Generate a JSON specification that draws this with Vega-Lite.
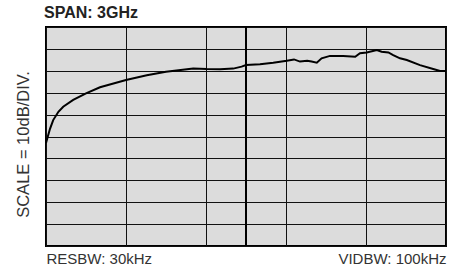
{
  "$schema": "https://vega.github.io/schema/vega-lite/v6.json",
  "width": 400,
  "height": 219,
  "autosize": "none",
  "padding": {"left": 46, "top": 27, "right": 10, "bottom": 23},
  "background": "white",
  "config": {
    "view": {"fill": "#dcdcdc", "stroke": "#000000", "strokeWidth": 2},
    "font": "Liberation Sans"
  },
  "title": {
    "text": "SPAN: 3GHz",
    "anchor": "start",
    "frame": "group",
    "fontSize": 16,
    "fontWeight": "bold",
    "color": "#222222",
    "offset": 5,
    "dx": -2
  },
  "datasets": {
    "trace": [
      {"x": 0, "y": 4.7},
      {"x": 0.1, "y": 5.35},
      {"x": 0.18, "y": 5.75},
      {"x": 0.31, "y": 6.13},
      {"x": 0.43, "y": 6.36},
      {"x": 0.68, "y": 6.67},
      {"x": 1.0, "y": 6.97},
      {"x": 1.35, "y": 7.25},
      {"x": 2.0, "y": 7.58},
      {"x": 2.52, "y": 7.8},
      {"x": 3.0, "y": 7.96},
      {"x": 3.68, "y": 8.11},
      {"x": 4.02, "y": 8.08},
      {"x": 4.35, "y": 8.07},
      {"x": 4.68, "y": 8.1},
      {"x": 4.89, "y": 8.19},
      {"x": 5.0, "y": 8.26},
      {"x": 5.35, "y": 8.3},
      {"x": 5.68, "y": 8.37},
      {"x": 6.02, "y": 8.46},
      {"x": 6.2, "y": 8.52},
      {"x": 6.35, "y": 8.42},
      {"x": 6.53, "y": 8.46},
      {"x": 6.64, "y": 8.42},
      {"x": 6.77, "y": 8.37},
      {"x": 6.89, "y": 8.57},
      {"x": 7.1, "y": 8.68},
      {"x": 7.43, "y": 8.68},
      {"x": 7.73, "y": 8.64},
      {"x": 7.85, "y": 8.8},
      {"x": 8.02, "y": 8.84},
      {"x": 8.27, "y": 8.95},
      {"x": 8.39, "y": 8.87},
      {"x": 8.56, "y": 8.84},
      {"x": 8.68, "y": 8.72},
      {"x": 8.85, "y": 8.57},
      {"x": 9.02, "y": 8.49},
      {"x": 9.35, "y": 8.26},
      {"x": 9.68, "y": 8.08},
      {"x": 9.85, "y": 7.99},
      {"x": 10, "y": 7.99}
    ],
    "center": [{"x": 5}]
  },
  "layer": [
    {
      "data": {"name": "trace"},
      "mark": {"type": "line", "color": "#000000", "strokeWidth": 2, "clip": true},
      "encoding": {
        "x": {
          "field": "x",
          "type": "quantitative",
          "scale": {"domain": [0, 10], "nice": false, "zero": false},
          "axis": {
            "values": [0, 1, 2, 3, 4, 5, 6, 7, 8, 9, 10],
            "grid": true,
            "gridColor": "#111111",
            "gridWidth": 1,
            "gridOpacity": 1,
            "ticks": false,
            "domain": false,
            "labelExpr": "datum.value == 0 ? 'RESBW: 30kHz' : (datum.value == 10 ? 'VIDBW: 100kHz' : '')",
            "labelFlush": true,
            "labelOverlap": false,
            "labelFontSize": 15,
            "labelColor": "#333333",
            "labelPadding": 5,
            "title": null
          }
        },
        "y": {
          "field": "y",
          "type": "quantitative",
          "scale": {"domain": [0, 10], "nice": false, "zero": false},
          "axis": {
            "values": [0, 1, 2, 3, 4, 5, 6, 7, 8, 9, 10],
            "grid": true,
            "gridColor": "#111111",
            "gridWidth": 1,
            "gridOpacity": 1,
            "ticks": false,
            "domain": false,
            "labels": false,
            "title": "SCALE = 10dB/DIV.",
            "titleFontSize": 16.5,
            "titleFontWeight": "normal",
            "titleColor": "#333333",
            "titlePadding": 15,
            "titleY": 117
          }
        }
      }
    },
    {
      "data": {"name": "center"},
      "mark": {"type": "rule", "color": "#000000", "strokeWidth": 2},
      "encoding": {
        "x": {"field": "x", "type": "quantitative"}
      }
    }
  ]
}
